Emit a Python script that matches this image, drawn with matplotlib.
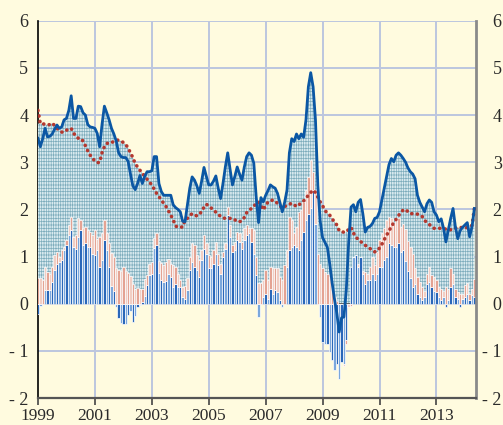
import numpy as np
import matplotlib
matplotlib.use("Agg")
import matplotlib.pyplot as plt

plt.rcParams['font.family'] = ['Liberation Serif', 'DejaVu Serif']
plt.rcParams['hatch.linewidth'] = 0.5

start_year = 1999
n_months = 185

# Headline series (solid blue line)
headline = [
    3.51, 3.33, 3.5, 3.72, 3.54, 3.55, 3.6, 3.7, 3.79, 3.72,
    3.75, 3.9, 3.93, 4.1, 4.41, 3.93, 3.93, 4.19, 4.18, 4.05,
    4.0, 3.8, 3.75, 3.74, 3.72, 3.61, 3.33, 3.8, 4.19, 4.05,
    3.9, 3.72, 3.6, 3.45, 3.2, 3.12, 3.1, 3.1, 3.02, 2.75,
    2.5, 2.42, 2.55, 2.72, 2.55, 2.7, 2.8, 2.8, 2.82, 3.12,
    3.12, 2.55, 2.38, 2.3, 2.3, 2.3, 2.3, 2.1, 2.04, 2.0,
    1.95, 1.75, 1.74, 2.1, 2.45, 2.69, 2.62, 2.5, 2.34, 2.6,
    2.89, 2.7, 2.52, 2.52, 2.6, 2.71, 2.45, 2.23, 2.55, 2.9,
    3.2, 2.85, 2.52, 2.7, 2.9, 2.75, 2.62, 2.9, 3.12, 3.2,
    3.15, 2.98, 2.27, 1.72, 2.25, 2.16, 2.3, 2.4, 2.52, 2.48,
    2.45, 2.34, 2.15, 1.95, 2.15, 2.41, 3.2, 3.5, 3.44, 3.6,
    3.5, 3.6, 3.53, 3.9, 4.6, 4.9, 4.6, 3.9, 2.5, 1.75,
    1.4, 1.3, 1.2, 0.85, 0.45, 0.1, -0.2, -0.6, -0.3, -0.28,
    0.3, 1.3, 2.05, 2.1, 1.95, 2.15, 2.21, 1.9, 1.52, 1.62,
    1.64, 1.7, 1.81, 1.83, 1.95, 2.2, 2.45, 2.69, 2.95, 3.08,
    3.01, 3.15, 3.2, 3.15, 3.08, 3.0, 2.88, 2.8, 2.75, 2.65,
    2.3, 2.15, 2.05, 1.95, 2.12, 2.2, 2.15, 1.95, 1.88, 1.74,
    1.8, 1.6, 1.31, 1.56, 1.81, 2.02, 1.63, 1.38, 1.55, 1.62,
    1.67, 1.72, 1.42, 1.63, 2.02,
]

# Trend series (red dotted line)
trend = [
    4.1, 3.82, 3.82, 3.8, 3.79, 3.8, 3.83, 3.78, 3.72, 3.68,
    3.64, 3.64, 3.68, 3.7, 3.72, 3.62, 3.55, 3.51, 3.51, 3.45,
    3.35, 3.24, 3.15, 3.08, 3.03, 2.99, 3.0, 3.2, 3.33, 3.4,
    3.41, 3.41, 3.45, 3.47, 3.47, 3.45, 3.42, 3.38, 3.3, 3.2,
    3.1, 2.97, 2.9, 2.83, 2.77, 2.7, 2.64, 2.58, 2.52, 2.43,
    2.34, 2.27, 2.2, 2.13, 2.06, 1.97, 1.88, 1.78, 1.65, 1.62,
    1.62, 1.63, 1.77, 1.81, 1.87, 1.91, 1.89, 1.86, 1.9, 1.95,
    2.05, 2.11, 2.07, 2.03, 2.0, 1.94, 1.9, 1.85, 1.82, 1.81,
    1.81, 1.81, 1.81, 1.78, 1.74, 1.74, 1.76, 1.83, 1.93, 1.98,
    2.02, 2.07, 2.12, 2.16, 2.08, 1.99, 2.08, 2.16, 2.18, 2.2,
    2.17, 2.13, 2.08, 2.03, 2.06, 2.09, 2.11, 2.13, 2.1, 2.06,
    2.1, 2.13, 2.18, 2.24, 2.3, 2.36, 2.41, 2.36, 2.26, 2.16,
    2.08, 1.98, 1.92, 1.88, 1.8, 1.74, 1.67, 1.55, 1.52, 1.52,
    1.52, 1.58, 1.62, 1.5, 1.42, 1.36, 1.32, 1.28, 1.24, 1.2,
    1.17, 1.13, 1.1, 1.12, 1.18, 1.26, 1.36, 1.45, 1.55, 1.63,
    1.72, 1.79, 1.87, 1.93, 1.99, 2.0, 1.95, 1.91, 1.91, 1.91,
    1.9, 1.88, 1.85, 1.77, 1.72, 1.68, 1.64, 1.6, 1.6, 1.6,
    1.6, 1.6, 1.58, 1.56, 1.57, 1.6, 1.6, 1.61, 1.62, 1.61,
    1.6, 1.62, 1.65, 1.66, 2.02,
]

# Hatched light-blue area (top of shaded band)
shade = [
    3.82, 3.82, 3.82, 3.8, 3.79, 3.8, 3.83, 3.78, 3.79, 3.72,
    3.75, 3.9, 3.93, 4.1, 4.41, 3.93, 3.93, 4.19, 4.18, 4.05,
    4.0, 3.8, 3.75, 3.74, 3.72, 3.61, 3.33, 3.8, 4.19, 4.05,
    3.9, 3.72, 3.6, 3.47, 3.47, 3.45, 3.42, 3.38, 3.3, 3.2,
    3.1, 2.97, 2.9, 2.83, 2.77, 2.7, 2.8, 2.8, 2.82, 3.12,
    3.12, 2.55, 2.38, 2.3, 2.3, 2.3, 2.3, 2.1, 2.04, 2.0,
    1.95, 1.75, 1.77, 2.1, 2.45, 2.69, 2.62, 2.5, 2.34, 2.6,
    2.89, 2.7, 2.52, 2.52, 2.6, 2.71, 2.45, 2.23, 2.55, 2.9,
    3.2, 2.85, 2.52, 2.7, 2.9, 2.75, 2.62, 2.9, 3.12, 3.2,
    3.15, 2.98, 2.27, 2.16, 2.25, 2.16, 2.3, 2.4, 2.52, 2.48,
    2.45, 2.34, 2.15, 2.03, 2.15, 2.41, 3.2, 3.5, 3.44, 3.6,
    3.5, 3.6, 3.53, 3.9, 4.6, 4.9, 4.6, 3.9, 2.5, 2.16,
    2.08, 1.98, 1.92, 1.88, 1.8, 1.74, 1.67, 1.55, 1.52, 1.52,
    1.52, 1.58, 2.05, 2.1, 1.95, 2.15, 2.21, 1.9, 1.52, 1.62,
    1.64, 1.7, 1.81, 1.83, 1.95, 2.2, 2.45, 2.69, 2.95, 3.08,
    3.01, 3.15, 3.2, 3.15, 3.08, 3.0, 2.88, 2.8, 2.75, 2.65,
    2.3, 2.15, 2.05, 1.95, 2.12, 2.2, 2.15, 1.95, 1.88, 1.74,
    1.8, 1.6, 1.58, 1.56, 1.81, 2.02, 1.63, 1.61, 1.62, 1.62,
    1.67, 1.72, 1.65, 1.66, 2.02,
]

# Stacked bar components
blue_part = [
    -0.22, -0.05, 0.0, 0.29, 0.29, 0.29, 0.46, 0.71, 0.85, 0.89,
    0.92, 1.13, 1.24, 1.45, 1.56, 1.2, 1.17, 1.42, 1.56, 1.24,
    1.28, 1.2, 1.2, 1.06, 1.03, 1.13, 0.78, 0.92, 1.35, 1.13,
    0.78, 0.38, 0.28, -0.06, -0.3, -0.4, -0.43, -0.44, -0.23, -0.16,
    -0.39, -0.25, -0.08, -0.02, 0.03, 0.16, 0.39, 0.6, 0.64, 1.18,
    1.24, 0.66, 0.5, 0.46, 0.48, 0.64, 0.57, 0.35, 0.42, 0.35,
    0.35, 0.14, 0.1, 0.3, 0.71, 0.89, 0.78, 0.71, 0.57, 0.92,
    1.17, 1.06, 0.75, 0.75, 0.85, 1.06, 0.82, 0.64, 0.99, 1.17,
    1.88, 1.42, 1.1, 1.13, 1.35, 1.31, 1.17, 1.35, 1.45, 1.49,
    1.31, 1.06, 0.6, -0.28, 0.0, 0.14, 0.21, 0.1, 0.32, 0.21,
    0.29, 0.25, 0.07, -0.07, 0.0, 0.78, 1.13, 1.2, 1.24, 1.2,
    1.13, 1.35, 1.52, 1.77, 1.91, 2.02, 2.41, 1.7, 0.0, -0.28,
    -0.81, -0.85, -0.85, -1.02, -1.2, -1.41, -1.27, -1.59, -1.24, -1.27,
    -0.78, 0.0, 0.78, 0.99, 1.03, 0.78, 0.99, 0.64, 0.42, 0.5,
    0.5, 0.64, 0.5, 0.64, 0.78, 0.78, 0.92, 0.99, 1.28, 1.24,
    1.2, 1.2, 1.28, 1.1, 1.13, 0.9, 0.7, 0.55, 0.35, 0.42,
    0.21, 0.14, 0.07, 0.14, 0.42, 0.46, 0.35, 0.28, 0.25, 0.14,
    0.07, 0.14, -0.07, 0.07, 0.35, 0.42, 0.14, 0.1, -0.07, 0.1,
    0.14, 0.21, 0.07, 0.18, 0.14,
]

pink_part = [
    0.55, 0.55, 0.5, 0.49, 0.39, 0.35, 0.32, 0.32, 0.25, 0.11,
    0.22, 0.07, 0.11, 0.22, 0.28, 0.22, 0.28, 0.39, 0.21, 0.36,
    0.35, 0.36, 0.32, 0.39, 0.53, 0.25, 0.64, 0.57, 0.42, 0.36,
    0.5, 0.7, 0.72, 0.75, 0.71, 0.7, 0.77, 0.7, 0.66, 0.58,
    0.41, 0.32, 0.34, 0.32, 0.29, 0.36, 0.21, 0.25, 0.25, 0.22,
    0.25, 0.24, 0.37, 0.36, 0.4, 0.31, 0.28, 0.47, 0.36, 0.29,
    0.15, 0.22, 0.27, 0.25, 0.28, 0.39, 0.46, 0.32, 0.35, 0.21,
    0.28, 0.22, 0.28, 0.24, 0.28, 0.25, 0.24, 0.21, 0.11, 0.11,
    0.18, 0.25, 0.14, 0.18, 0.17, 0.18, 0.14, 0.25, 0.22, 0.11,
    0.29, 0.5, 0.39, 0.44, 0.43, 0.36, 0.5, 0.4, 0.46, 0.54,
    0.46, 0.5, 0.5, 0.5, 0.82, 0.35, 0.71, 0.57, 0.26, 0.43,
    0.82, 0.63, 0.64, 0.64, 0.78, 1.03, 0.39, 0.71, 1.06, 0.85,
    0.75, 0.68, 0.64, 0.57, 0.36, 0.14, 0.05, 0.0, 0.0, -0.05,
    -0.07, -0.07, -0.05, 0.0, 0.0, 0.07, 0.01, 0.06, 0.26, 0.14,
    0.28, 0.35, 0.32, 0.46, 0.57, 0.71, 0.68, 0.78, 0.56, 0.57,
    0.5, 0.61, 0.53, 0.53, 0.57, 0.68, 0.63, 0.65, 0.71, 0.33,
    0.36, 0.32, 0.28, 0.14, 0.22, 0.32, 0.25, 0.29, 0.25, 0.21,
    0.25, 0.14, 0.35, 0.25, 0.4, 0.22, 0.18, 0.15, 0.21, 0.11,
    0.25, 0.22, 0.14, 0.14, 0.39,
]

year_ticks = [1999, 2001, 2003, 2005, 2007, 2009, 2011, 2013]
y_ticks = [-2, -1, 0, 1, 2, 3, 4, 5, 6]

# ---------------------------------------------------------------
x = start_year + np.arange(n_months) / 12.0
headline = np.array(headline)
trend = np.array(trend)
shade = np.array(shade)
blue_part = np.array(blue_part)
pink_part = np.array(pink_part)

bg = '#fffbdf'
fig = plt.figure(figsize=(5.03, 4.25), dpi=100, facecolor=bg)
ax = fig.add_axes([0.0755, 0.0635, 0.8708, 0.8875])
ax.set_facecolor(bg)

ax.set_xlim(1999.0, 2014.39)
ax.set_ylim(-2, 6)

# grid
for yr in year_ticks[1:]:
    ax.axvline(yr, color='#bcc6de', lw=1.4, zorder=0.5)
for v in y_ticks[1:]:
    if v != 0:
        ax.axhline(v, color='#bcc6de', lw=1.4, zorder=0.5)

# hatched shaded band
ax.fill_between(x, 0, shade, facecolor='#d9eaef', edgecolor='#7eadbd',
                hatch='|' * 7 + '-' * 5, linewidth=0, zorder=1)

ax.axhline(0, color='#5a5a5a', lw=1.3, zorder=1.5)

# stacked bars
w = 1.0 / 12
blue_cols = ['#2a67b9' if i % 2 == 0 else '#7aa7dc' for i in range(n_months)]
pink_cols = ['#e4a393' if i % 2 == 0 else '#f1cec4' for i in range(n_months)]
ax.bar(x, blue_part, width=w, color=blue_cols, edgecolor='white',
       linewidth=0.5, zorder=2)
pos_base = np.where(pink_part >= 0, np.maximum(blue_part, 0), np.minimum(blue_part, 0))
ax.bar(x, pink_part, width=w, bottom=pos_base, color=pink_cols,
       edgecolor='white', linewidth=0.5, zorder=2)

# lines
ax.plot(x, trend, color='#b4382f', lw=2.6, linestyle=(0, (0.05, 1.5)),
        dash_capstyle='round', zorder=3)
ax.plot(x, headline, color='#0b57a4', lw=2.0, zorder=4)

# spines
ax.spines['top'].set_visible(False)
ax.spines['left'].set_color('black')
ax.spines['left'].set_linewidth(1.2)
ax.spines['left'].set_zorder(0.8)
ax.spines['right'].set_color('#8a8a8a')
ax.spines['right'].set_linewidth(2.0)
ax.spines['bottom'].set_color('#555555')
ax.spines['bottom'].set_linewidth(1.6)

ax.set_xticks(year_ticks)
ax.set_xticklabels([str(y) for y in year_ticks], fontsize=12.5, color='#2a2a2a')
ax.tick_params(axis='x', direction='out', length=5, width=1.2, color='#444444', pad=2)

ylabels = [('- %d' % -v) if v < 0 else str(v) for v in y_ticks]
ax.set_yticks(y_ticks)
ax.set_yticklabels(ylabels, fontsize=13, color='#2a2a2a')
ax.tick_params(axis='y', length=0, pad=7)

ax2 = ax.twinx()
ax2.set_ylim(-2, 6)
ax2.set_yticks(y_ticks)
ax2.set_yticklabels(ylabels, fontsize=13, color='#2a2a2a', ha='right')
ax2.tick_params(axis='y', length=0, pad=18.5)
for s in ax2.spines.values():
    s.set_visible(False)

fig.savefig('out.png', dpi=100, facecolor=bg)
